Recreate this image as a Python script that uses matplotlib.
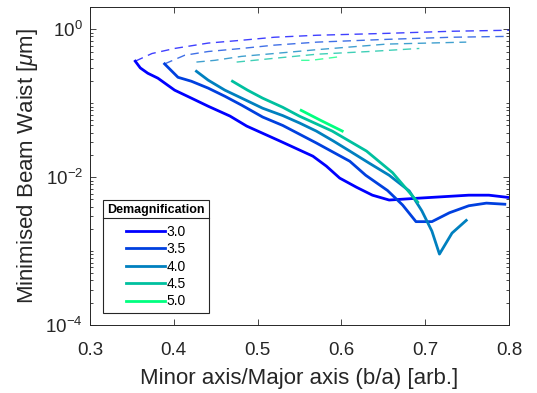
import numpy as np
import matplotlib
matplotlib.use('Agg')
import matplotlib.pyplot as plt
from matplotlib.lines import Line2D
from matplotlib.ticker import FixedLocator, LogLocator, NullFormatter, LogFormatterSciNotation

plt.rcParams['font.family'] = ['Liberation Sans', 'DejaVu Sans']
plt.rcParams['mathtext.fontset'] = 'custom'
plt.rcParams['mathtext.rm'] = 'Liberation Sans'
plt.rcParams['mathtext.it'] = 'Liberation Sans:italic'

demag = ['3.0', '3.5', '4.0', '4.5', '5.0']

# lower (solid) branch of each curve
solid_x = [
    [0.354, 0.360, 0.369, 0.381, 0.401, 0.421, 0.441, 0.467, 0.487, 0.526, 0.566, 0.582, 0.598, 0.618, 0.637, 0.657, 0.693, 0.752, 0.776, 0.800],
    [0.389, 0.405, 0.421, 0.441, 0.461, 0.481, 0.506, 0.530, 0.570, 0.610, 0.629, 0.655, 0.673, 0.689, 0.708, 0.729, 0.752, 0.773, 0.795],
    [0.427, 0.441, 0.461, 0.481, 0.506, 0.530, 0.550, 0.570, 0.590, 0.610, 0.633, 0.657, 0.681, 0.696, 0.708, 0.717, 0.732, 0.749],
    [0.470, 0.488, 0.506, 0.530, 0.550, 0.589, 0.630, 0.661, 0.691],
    [0.552, 0.576, 0.601],
]
solid_y = [
    [0.37, 0.30, 0.254, 0.218, 0.15, 0.117, 0.091, 0.067, 0.049, 0.031, 0.0192, 0.0141, 0.0097, 0.0073, 0.0057, 0.0049, 0.0052, 0.0057, 0.0057, 0.0053],
    [0.34, 0.224, 0.198, 0.16, 0.124, 0.094, 0.065, 0.050, 0.029, 0.0164, 0.0106, 0.0066, 0.0042, 0.0025, 0.0025, 0.0033, 0.0041, 0.00445, 0.0043],
    [0.27, 0.205, 0.15, 0.117, 0.0855, 0.068, 0.054, 0.042, 0.031, 0.0225, 0.0155, 0.0106, 0.0065, 0.0035, 0.00186, 0.00091, 0.00175, 0.0026],
    [0.198, 0.15, 0.117, 0.088, 0.0667, 0.042, 0.0225, 0.0115, 0.0046],
    [0.080, 0.058, 0.042],
]

# upper (dashed) branch of each curve
dash_x = [
    [0.354, 0.374, 0.401, 0.441, 0.481, 0.520, 0.571, 0.654, 0.732, 0.800],
    [0.389, 0.413, 0.441, 0.481, 0.520, 0.571, 0.654, 0.732, 0.796],
    [0.427, 0.449, 0.481, 0.520, 0.571, 0.654, 0.749],
    [0.475, 0.520, 0.571, 0.633, 0.693],
    [0.552, 0.564, 0.601],
]
dash_y = [
    [0.37, 0.47, 0.55, 0.65, 0.71, 0.78, 0.83, 0.88, 0.94, 0.97],
    [0.34, 0.445, 0.50, 0.55, 0.61, 0.67, 0.73, 0.78, 0.80],
    [0.36, 0.38, 0.43, 0.47, 0.53, 0.63, 0.67],
    [0.36, 0.405, 0.46, 0.50, 0.55],
    [0.38, 0.38, 0.43],
]

colors = plt.cm.winter(np.linspace(0, 1, len(demag)))

fig = plt.figure(figsize=(5.37, 3.93), dpi=100)
ax = fig.add_axes([90/537, 68/393, 419/537, 318/393])

for i, lab in enumerate(demag):
    ax.plot(solid_x[i], solid_y[i], color=colors[i], lw=2, label=lab)
    ax.plot(dash_x[i], dash_y[i], color=colors[i], lw=1, ls=(0, (6, 4)), alpha=0.75)

ax.set_yscale('log')
ax.set_xlim(0.3, 0.8)
ax.set_ylim(1e-4, 2)
ax.set_xticks([0.3, 0.4, 0.5, 0.6, 0.7, 0.8])
ax.set_xticklabels(['0.3', '0.4', '0.5', '0.6', '0.7', '0.8'])
ax.yaxis.set_major_locator(FixedLocator([1e-4, 1e-2, 1e0]))
ax.yaxis.set_major_formatter(LogFormatterSciNotation())
ax.yaxis.set_minor_locator(LogLocator(base=10, subs=np.arange(1, 10), numticks=20))
ax.yaxis.set_minor_formatter(NullFormatter())
ax.tick_params(which='both', direction='in', top=True, right=True, colors='#262626',
               labelsize=13.5, width=0.6)
ax.tick_params(which='major', length=4)
ax.tick_params(which='minor', length=2.2)
ax.tick_params(axis='x', pad=12)
ax.tick_params(axis='y', pad=5)
for sp in ax.spines.values():
    sp.set_color('#262626')
    sp.set_linewidth(0.7)

ax.set_xlabel('Minor axis/Major axis (b/a) [arb.]', fontsize=16, color='#262626', labelpad=7)
ax.set_ylabel(r'Minimised Beam Waist [$\mu$m]', fontsize=16, color='#262626', labelpad=4)

leg = ax.legend(title='Demagnification', loc='lower left', bbox_to_anchor=(0.031, 0.038),
                borderaxespad=0, fontsize=10, title_fontproperties={'weight': 'bold', 'size': 9},
                handlelength=2.8, handletextpad=0.1, labelspacing=0.25, borderpad=0.32,
                alignment='center', fancybox=False, framealpha=1, edgecolor='#262626')
leg.get_frame().set_linewidth(0.8)
leg._legend_box.sep = 6  # gap between title and entries

fig.canvas.draw()
tb = leg.get_title().get_window_extent()
fb = leg.get_frame().get_window_extent()
ysep = (tb.y0 - 2) / fig.bbox.height
fig.add_artist(Line2D([fb.x0 / fig.bbox.width, fb.x1 / fig.bbox.width], [ysep, ysep],
                      transform=fig.transFigure, color='#262626', lw=0.8))

fig.savefig('out.png', dpi=100)
